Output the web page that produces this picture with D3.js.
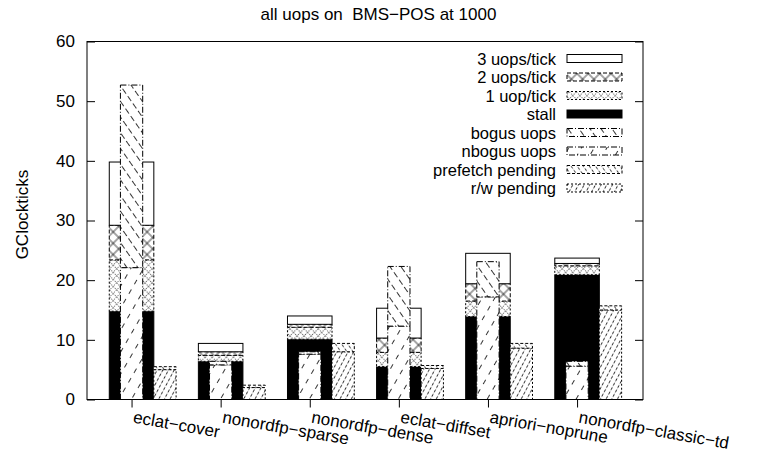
<!DOCTYPE html>
<html><head><meta charset="utf-8">
<script src="https://cdn.jsdelivr.net/npm/d3@7"></script>
<style>
body{margin:0;background:#fff}
text{font-family:"Liberation Sans",Arial,Helvetica,sans-serif;fill:#000}
</style>
</head><body>
<svg id="chart" width="757" height="452"></svg>
<script>
// ---- data ----
const categories = ["eclat\u2212cover","nonordfp\u2212sparse","nonordfp\u2212dense","eclat\u2212diffset","apriori\u2212noprune","nonordfp\u2212classic\u2212td"];
const stall    = [14.8, 6.4, 10.1, 5.5, 13.9, 20.9];
const uop1     = [ 8.6, 1.0,  2.0, 2.4,  2.6,  1.5];
const uop2     = [ 5.8, 0.6,  0.5, 2.4,  2.9,  0.4];
const uop3     = [10.6, 1.4,  1.4, 5.0,  5.1,  0.9];
const nbogus   = [22.1, 5.8,  7.6, 12.3, 17.2, 5.6];
const bogus    = [30.6, 0.6,  0.4, 10.0, 5.9,  0.8];
const rwPend   = [ 5.0, 2.0,  8.0, 5.2,  8.6, 15.0];
const prefPend = [ 0.5, 0.4,  1.4, 0.5,  0.8,  0.7];
const yTicks = [0,10,20,30,40,50,60];
const seriesNames = {uop3:"3 uops/tick", uop2:"2 uops/tick", uop1:"1 uop/tick", stall:"stall",
  bogus:"bogus uops", nbogus:"nbogus uops", pref:"prefetch pending", rw:"r/w pending"};
const title = "all uops on  BMS\u2212POS at 1000";
const yLabel = "GClockticks";

// ---- layout ----
const W = 757, H = 452;
const L = 87, R = 643, T = 41.5, B = 399.5;
const svg = d3.select("#chart");
const x = d3.scaleLinear().domain([-0.5, 5.74]).range([L, R]);
const y = d3.scaleLinear().domain([0, 60]).range([B, T]);

const rows = categories.map((c,i)=>({cat:c, i, stall:stall[i], uop1:uop1[i], uop2:uop2[i], uop3:uop3[i],
  nbogus:nbogus[i], bogus:bogus[i], rw:rwPend[i], pref:prefPend[i]}));

// ---- patterns ----
const defs = svg.append("defs");
function linePat(id, spacing, angle, sw, dash, cross){
  const p = defs.append("pattern").attr("id", id).attr("patternUnits","userSpaceOnUse")
    .attr("width", spacing).attr("height", spacing)
    .attr("patternTransform", `rotate(${angle})`);
  p.append("rect").attr("width", spacing).attr("height", spacing).attr("fill","#fff");
  p.append("line").attr("x1", spacing/2).attr("x2", spacing/2).attr("y1",0).attr("y2",spacing)
    .attr("stroke","#000").attr("stroke-width", sw).attr("stroke-dasharray", dash);
  if (cross) p.append("line").attr("y1", spacing/2).attr("y2", spacing/2).attr("x1",0).attr("x2",spacing)
    .attr("stroke","#000").attr("stroke-width", sw).attr("stroke-dasharray", dash);
}
linePat("p-uop2", 8, 45, 0.7, null, true);
linePat("p-uop1", 5, 45, 0.6, "1.2 1.3", true);
linePat("p-bogus", 9, -35, 0.8, "5 3", false);
linePat("p-nbogus", 11, 30, 0.8, "3 6", false);
linePat("p-pref", 5, -35, 0.7, "1.5 2", false);
linePat("p-rw", 5, 28, 0.8, "2.5 2", false);

const style = {
  uop3:  {fill:"#fff", dash:null},
  uop2:  {fill:"url(#p-uop2)", dash:"4 2"},
  uop1:  {fill:"url(#p-uop1)", dash:"2 2"},
  stall: {fill:"#000", dash:null},
  bogus: {fill:"url(#p-bogus)", dash:"6 2 1 2"},
  nbogus:{fill:"url(#p-nbogus)", dash:"6 2 1 2"},
  pref:  {fill:"url(#p-pref)", dash:"3 2"},
  rw:    {fill:"url(#p-rw)", dash:"2 2"}
};

// ---- bars ----
const groups = [
  {keys:["stall","uop1","uop2","uop3"], x0:-0.25, x1:0.25},
  {keys:["nbogus","bogus"], x0:-0.125, x1:0.125},
  {keys:["rw","pref"], x0:0.25, x1:0.5}
];
const gBars = svg.append("g");
groups.forEach(g=>{
  const stacked = d3.stack().keys(g.keys)(rows);
  stacked.forEach(layer=>{
    const st = style[layer.key];
    gBars.append("g").selectAll("rect").data(layer).join("rect")
      .attr("x", (d,i)=>x(i+g.x0))
      .attr("width", (d,i)=>x(i+g.x1)-x(i+g.x0))
      .attr("y", d=>y(d[1]))
      .attr("height", d=>y(d[0])-y(d[1]))
      .attr("fill", st.fill)
      .attr("stroke", "#000").attr("stroke-width", 1)
      .attr("stroke-dasharray", st.dash);
  });
});

// ---- axes ----
const yl = svg.append("g").attr("transform",`translate(${L},0)`)
  .call(d3.axisLeft(y).tickValues(yTicks).tickSize(-8).tickPadding(12).tickFormat(d3.format("d")));
yl.select(".domain").remove();
yl.selectAll("text").attr("font-size",17).attr("font-family",'"Liberation Sans",Arial,sans-serif');
const yr = svg.append("g").attr("transform",`translate(${R},0)`)
  .call(d3.axisRight(y).tickValues(yTicks).tickSize(-8).tickFormat(""));
yr.select(".domain").remove();
const xb = svg.append("g").attr("transform",`translate(0,${B})`)
  .call(d3.axisBottom(x).tickValues(d3.range(categories.length)).tickSize(8).tickFormat(""));
xb.select(".domain").remove();
svg.selectAll(".tick line").attr("stroke","#000").attr("stroke-width",1);

svg.append("rect").attr("x",L).attr("y",T).attr("width",R-L).attr("height",B-T)
  .attr("fill","none").attr("stroke","#000").attr("stroke-width",1);

// category labels
svg.append("g").selectAll("text").data(categories).join("text")
  .attr("transform",(d,i)=>`translate(${x(i)+1},${B+23}) rotate(10)`)
  .attr("font-size",17).text(d=>d);

// title & y label
svg.append("text").attr("x",W/2).attr("y",20).attr("text-anchor","middle").attr("font-size",17)
  .style("white-space","pre").text(title);
svg.append("text").attr("transform",`translate(28,${(T+B)/2 - 6}) rotate(-90)`)
  .attr("text-anchor","middle").attr("font-size",17).text(yLabel);

// ---- legend ----
const legKeys = ["uop3","uop2","uop1","stall","bogus","nbogus","pref","rw"];
const lg = svg.append("g");
legKeys.forEach((k,j)=>{
  const cy = 58.5 + j*18.5;
  lg.append("text").attr("x",556).attr("y",cy+6).attr("text-anchor","end").attr("font-size",16.5).text(seriesNames[k]);
  lg.append("rect").attr("x",567).attr("y",cy-4).attr("width",55).attr("height",8)
    .attr("fill",style[k].fill).attr("stroke","#000").attr("stroke-width",1).attr("stroke-dasharray",style[k].dash);
});
</script>
</body></html>
